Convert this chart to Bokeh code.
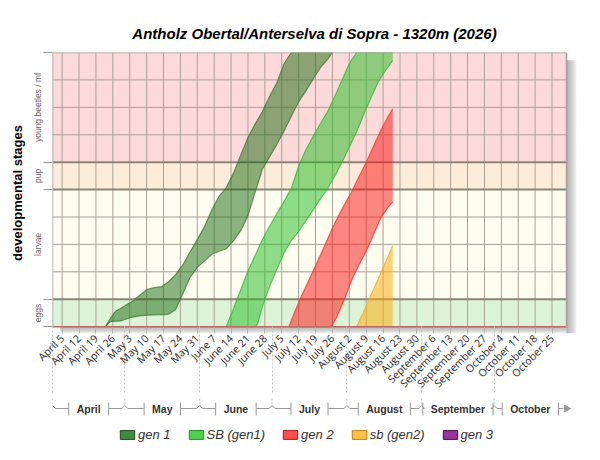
import numpy as np
import pandas as pd
from bokeh.plotting import figure
from bokeh.layouts import column
from bokeh.models import FixedTicker, Range1d, Legend, LegendItem
from bokeh.embed import file_html
from bokeh.resources import INLINE
from bokeh.core.properties import value

# ---------------- data ----------------
TITLE = "Antholz Obertal/Anterselva di Sopra - 1320m (2026)"
SEASON_START = "2026-04-01"
SEASON_END = "2026-10-31"

stage_names = ["eggs", "larvae", "pup", "young beetles / mf"]
stage_bounds = [0, 1, 5, 6, 10]

week_labels = ["April 5", "April 12", "April 19", "April 26", "May 3", "May 10",
               "May 17", "May 24", "May 31", "June 7", "June 14", "June 21",
               "June 28", "July 5", "July 12", "July 19", "July 26", "August 2",
               "August 9", "August 16", "August 23", "August 30", "September 6",
               "September 13", "September 20", "September 27", "October 4",
               "October 11", "October 18", "October 25"]
month_names = ["April", "May", "June", "July", "August", "September", "October"]

gen1_dates = ["2026-04-23", "2026-04-25", "2026-04-27", "2026-04-29", "2026-05-01",
              "2026-05-04", "2026-05-07", "2026-05-10", "2026-05-13", "2026-05-16",
              "2026-05-19", "2026-05-22", "2026-05-25", "2026-05-28", "2026-05-31",
              "2026-06-03", "2026-06-06", "2026-06-09", "2026-06-12", "2026-06-15",
              "2026-06-18", "2026-06-21", "2026-06-24", "2026-06-27", "2026-06-30",
              "2026-07-03", "2026-07-06", "2026-07-09", "2026-07-12", "2026-07-15",
              "2026-07-18", "2026-07-21", "2026-07-24", "2026-07-26"]
gen1_low = [0, 0.19, 0.2, 0.21, 0.26, 0.35, 0.39, 0.42, 0.43, 0.44, 0.45, 0.62,
            1.2, 1.8, 2.16, 2.4, 2.64, 2.75, 2.84, 3.14, 3.5, 4.05, 4.92, 5.75,
            6.2, 6.65, 7.15, 7.68, 8.2, 8.6, 9.03, 9.45, 9.75, 10]
gen1_high = [0, 0.3, 0.55, 0.65, 0.76, 0.92, 1.13, 1.35, 1.42, 1.45, 1.63, 1.9,
             2.25, 2.72, 3.18, 3.65, 4.25, 4.75, 5.07, 5.6, 6.25, 6.9, 7.4, 7.85,
             8.4, 8.9, 9.6, 10, 10, 10, 10, 10, 10, 10]

sb1_dates = ["2026-06-12", "2026-06-15", "2026-06-18", "2026-06-21", "2026-06-24",
             "2026-06-25", "2026-06-27", "2026-06-30", "2026-07-03", "2026-07-06",
             "2026-07-09", "2026-07-12", "2026-07-15", "2026-07-18", "2026-07-21",
             "2026-07-24", "2026-07-27", "2026-07-30", "2026-08-02", "2026-08-05",
             "2026-08-08", "2026-08-11", "2026-08-14", "2026-08-17", "2026-08-20"]
sb1_low = [0, 0, 0, 0, 0, 0.1, 0.73, 1.48, 2.1, 2.7, 3.15, 3.47, 3.86, 4.26,
           4.65, 5.04, 5.5, 6.0, 6.55, 7.1, 7.75, 8.35, 8.93, 9.35, 9.7]
sb1_high = [0, 0.65, 1.35, 2.03, 2.6, 2.8, 3.17, 3.67, 4.13, 4.57, 5.05, 5.85,
            6.45, 6.94, 7.4, 7.85, 8.4, 9.0, 9.6, 10, 10, 10, 10, 10, 10]

gen2_dates = ["2026-07-08", "2026-07-10", "2026-07-13", "2026-07-16", "2026-07-19",
              "2026-07-22", "2026-07-25", "2026-07-26", "2026-07-28", "2026-07-31",
              "2026-08-03", "2026-08-06", "2026-08-09", "2026-08-12", "2026-08-15",
              "2026-08-18", "2026-08-20"]
gen2_low = [0, 0, 0, 0, 0, 0, 0, 0.05, 0.4, 1.0, 1.7, 2.25, 2.75, 3.35, 3.95,
            4.35, 4.55]
gen2_high = [0, 0.45, 1.08, 1.65, 2.22, 2.8, 3.4, 3.6, 3.95, 4.45, 4.92, 5.47,
             6.0, 6.57, 7.15, 7.65, 7.95]

sb2_dates = ["2026-08-05", "2026-08-08", "2026-08-11", "2026-08-14", "2026-08-17",
             "2026-08-20"]
sb2_low = [0, 0, 0, 0, 0, 0]
sb2_high = [0, 0.55, 1.15, 1.75, 2.35, 2.95]

gen3_dates = []
gen3_low = []
gen3_high = []

series_names = ["gen 1", "SB (gen1)", "gen 2", "sb (gen2)", "gen 3"]

# ---------------- styles ----------------
stage_fill = ["#dcf3d7", "#fdfdf0", "#fdecda", "#fcdada"]
area_fill = ["#1a6a10", "#20bb20", "#ff1010", "#ffaa00", "#800080"]
area_line = ["#3d7d35", "#33bb33", "#ff3333", "#ffaa22", "#8d1f8d"]
icon_fill = ["#2e7d2e", "#3ccc3c", "#ff3b3b", "#ffbb33", "#8d1f8d"]
icon_line = ["#1b4d1b", "#1f8f1f", "#b01515", "#c07f10", "#4a0a4a"]

# ---------------- geometry ----------------
t0 = pd.Timestamp(SEASON_START)


def to_days(dates):
    if len(dates) == 0:
        return np.array([], dtype=float)
    return np.asarray((pd.to_datetime(dates) - t0).days, dtype=float)


d_end = float((pd.Timestamp(SEASON_END) - t0).days)
PLOT_W, PLOT_H = 514.0, 280.0
SH_R, SH_B = 10.0, 7.0
PXD = PLOT_W / d_end                       # px per day
y_top = float(stage_bounds[-1])
PXU = PLOT_H / y_top                       # px per stage unit
x_end = d_end + SH_R / PXD
y_start = -SH_B / PXU

week_days = np.asarray((pd.to_datetime([w + " 2026" for w in week_labels],
                                        format="%B %d %Y") - t0).days, dtype=float)
month_start = np.asarray((pd.to_datetime([m + " 1 2026" for m in month_names],
                                         format="%B %d %Y") - t0).days, dtype=float)
month_end = np.append(month_start[1:], d_end)

FONT_TICK = "Open Sans"
FONT = "Liberation Sans"
W = 600
LEFT, TOPB, BOTTOM = 52, 52, 59
RIGHT = W - LEFT - int(PLOT_W + SH_R)
H1 = TOPB + int(PLOT_H + SH_B) + BOTTOM
H2 = 460 - H1

# ---------------- main figure ----------------
p = figure(width=W, height=H1, x_range=Range1d(0, x_end),
           y_range=Range1d(y_start, y_top), output_backend="svg",
           toolbar_location=None, min_border_left=LEFT, min_border_right=RIGHT,
           min_border_top=TOPB, min_border_bottom=BOTTOM, outline_line_color=None)
p.grid.visible = False

p.title.text = TITLE
p.title.text_font = FONT
p.title.text_font_style = "bold italic"
p.title.text_font_size = "15px"
p.title.align = "center"
p.title.text_color = "#000000"
p.title.standoff = 22

# stage bands
p.quad(left=0, right=d_end, bottom=stage_bounds[:-1], top=stage_bounds[1:],
       fill_color=stage_fill, line_color=None)

# shadow
for k in range(5):
    w = SH_R * (k + 1) / 5
    h = SH_B * (k + 1) / 5
    p.quad(left=d_end, right=d_end + w / PXD, top=y_top - 8 / PXU, bottom=y_start,
           fill_color="#6a6a6a", fill_alpha=0.12, line_color=None)
    p.quad(left=8 / PXD, right=d_end, top=0, bottom=-h / PXU,
           fill_color="#6a6a6a", fill_alpha=0.12, line_color=None)

# grid
p.segment(x0=week_days, y0=0, x1=week_days, y1=y_top, line_color="#aba196",
          line_width=1)
inner = [u for u in range(1, int(y_top)) if u not in stage_bounds]
p.segment(x0=0, y0=inner, x1=d_end, y1=inner, line_color="#aba196", line_width=1)
borders = stage_bounds[1:-1]
p.segment(x0=0, y0=borders, x1=d_end, y1=borders, line_color="#8c8576",
          line_width=2)

# series
all_data = [(gen1_dates, gen1_low, gen1_high), (sb1_dates, sb1_low, sb1_high),
            (gen2_dates, gen2_low, gen2_high), (sb2_dates, sb2_low, sb2_high),
            (gen3_dates, gen3_low, gen3_high)]
for (dates, lo, hi), fc, lc in zip(all_data, area_fill, area_line):
    xd = to_days(dates)
    p.varea(x=xd, y1=np.asarray(lo, float), y2=np.asarray(hi, float),
            fill_color=fc, fill_alpha=0.5)
    p.line(xd, np.asarray(lo, float), line_color=lc, line_alpha=0.8, line_width=1.2)
    p.line(xd, np.asarray(hi, float), line_color=lc, line_alpha=0.8, line_width=1.2)

# plot border
p.segment(x0=[0, 0, d_end], y0=[y_top, 0, 0], x1=[d_end, 0, d_end],
          y1=[y_top, y_top, y_top], line_color="#a39a9a", line_width=1.5)
p.segment(x0=0, y0=0, x1=d_end, y1=0, line_color="#b96a60", line_width=1.5)

# x axis
xa = p.xaxis[0]
xa.ticker = FixedTicker(ticks=list(week_days), minor_ticks=list(month_start))
xa.major_label_overrides = {int(d): l for d, l in zip(week_days, week_labels)}
xa.major_label_orientation = np.pi / 4
xa.axis_line_color = None
xa.major_tick_in = 6
xa.major_tick_out = 0
xa.major_tick_line_color = "#b0b0b0"
xa.minor_tick_in = 7
xa.minor_tick_out = BOTTOM
xa.minor_tick_line_color = "#c4c4c4"
xa.minor_tick_line_dash = "2 2"
xa.major_label_standoff = 3 - BOTTOM
xa.major_label_text_font = FONT_TICK
xa.major_label_text_font_size = "10.5px"
xa.major_label_text_color = "#2a2a2a"

# y axis
mids = [(a + b) / 2 for a, b in zip(stage_bounds[:-1], stage_bounds[1:])]
ya = p.yaxis[0]
ya.ticker = FixedTicker(ticks=mids, minor_ticks=stage_bounds)
ya.major_label_overrides = {m: n for m, n in zip(mids, stage_names)}
ya.major_label_orientation = "vertical"
ya.axis_line_color = None
ya.major_tick_in = 0
ya.major_tick_out = 0
ya.minor_tick_in = 0
ya.minor_tick_out = 9
ya.minor_tick_line_color = "#999999"
ya.major_label_standoff = 0
ya.major_label_text_font = FONT
ya.major_label_text_font_size = "8.5px"
ya.major_label_text_color = "#666666"
ya.axis_label = "developmental stages"
ya.axis_label_text_font = FONT
ya.axis_label_text_font_size = "13px"
ya.axis_label_text_font_style = "bold"
ya.axis_label_text_color = "#000000"
ya.axis_label_standoff = 6

# ---------------- month bracket + legend figure ----------------
q = figure(width=W, height=H2, x_range=p.x_range, y_range=Range1d(0, H2),
           x_axis_type=None, y_axis_type=None, output_backend="svg",
           toolbar_location=None, min_border_left=LEFT, min_border_right=RIGHT,
           min_border_top=0, min_border_bottom=0, outline_line_color=None)
q.grid.visible = False

BOLD_W = {'A': 722, 'p': 611, 'r': 389, 'i': 278, 'l': 278, 'M': 833, 'a': 556,
          'y': 556, 'J': 556, 'u': 611, 'n': 611, 'e': 556, 'g': 611, 's': 556,
          't': 333, 'S': 667, 'm': 889, 'b': 611, 'O': 778, 'c': 556, 'o': 611}
MFS = 10.5
LINE_Y = H2 - 10
PEAK_Y, TICK_T, TICK_B, TOP = LINE_Y + 3, LINE_Y + 6, LINE_Y - 7, H2
GAP, PW = 8 / PXD, 3 / PXD

centers = (month_start + month_end) / 2
hx0, hx1, vx, arrow_end = [], [], [], d_end - 3 / PXD
for i, name in enumerate(month_names):
    hw = sum(BOLD_W.get(ch, 600) for ch in name) / 1000 * MFS / 2 / PXD
    lt, rt = centers[i] - hw - GAP, centers[i] + hw + GAP
    hx0 += [month_start[i] + PW, rt]
    hx1 += [lt, month_end[i] - PW if i < len(month_names) - 1 else arrow_end]
    vx += [lt, rt]
q.segment(x0=hx0, y0=LINE_Y, x1=hx1, y1=LINE_Y, line_color="#999999", line_width=1)
q.segment(x0=vx, y0=TICK_B, x1=vx, y1=TICK_T, line_color="#999999", line_width=1)
px0 = list(month_start[1:]) + list(month_start)
px1 = list(month_start[1:] - PW) + list(month_start + PW)
q.segment(x0=px0, y0=PEAK_Y, x1=px1, y1=LINE_Y, line_color="#999999", line_width=1)
q.segment(x0=month_start, y0=TOP, x1=month_start, y1=PEAK_Y, line_color="#c4c4c4",
          line_width=1, line_dash="2 2")
q.scatter(x=[d_end], y=[LINE_Y], marker="triangle", size=7, angle=-np.pi / 2,
          fill_color="#999999", line_color="#999999")
q.text(x=centers, y=LINE_Y, text=month_names, text_align="center",
       text_baseline="middle", text_font=value(FONT), text_font_style="bold",
       text_font_size="10.5px", text_color="#333333")

# legend (icons only; proxies carry a single undrawn NaN point)
items = []
for name, fc, lc in zip(series_names, icon_fill, icon_line):
    r = q.patch(x=np.array([np.nan]), y=np.array([np.nan]), fill_color=fc,
                fill_alpha=0.9, line_color=lc, line_width=1)
    items.append(LegendItem(label=name, renderers=[r]))
leg = Legend(items=items, orientation="horizontal", location=(66, 18),
             glyph_width=18, glyph_height=11, label_standoff=2, spacing=16,
             padding=0, margin=0, border_line_color=None,
             background_fill_alpha=0, label_text_font=FONT,
             label_text_font_style="italic", label_text_font_size="13px",
             label_text_color="#333333")
q.add_layout(leg)

layout = column(p, q)
open("out.html", "w").write(file_html(layout, INLINE))
